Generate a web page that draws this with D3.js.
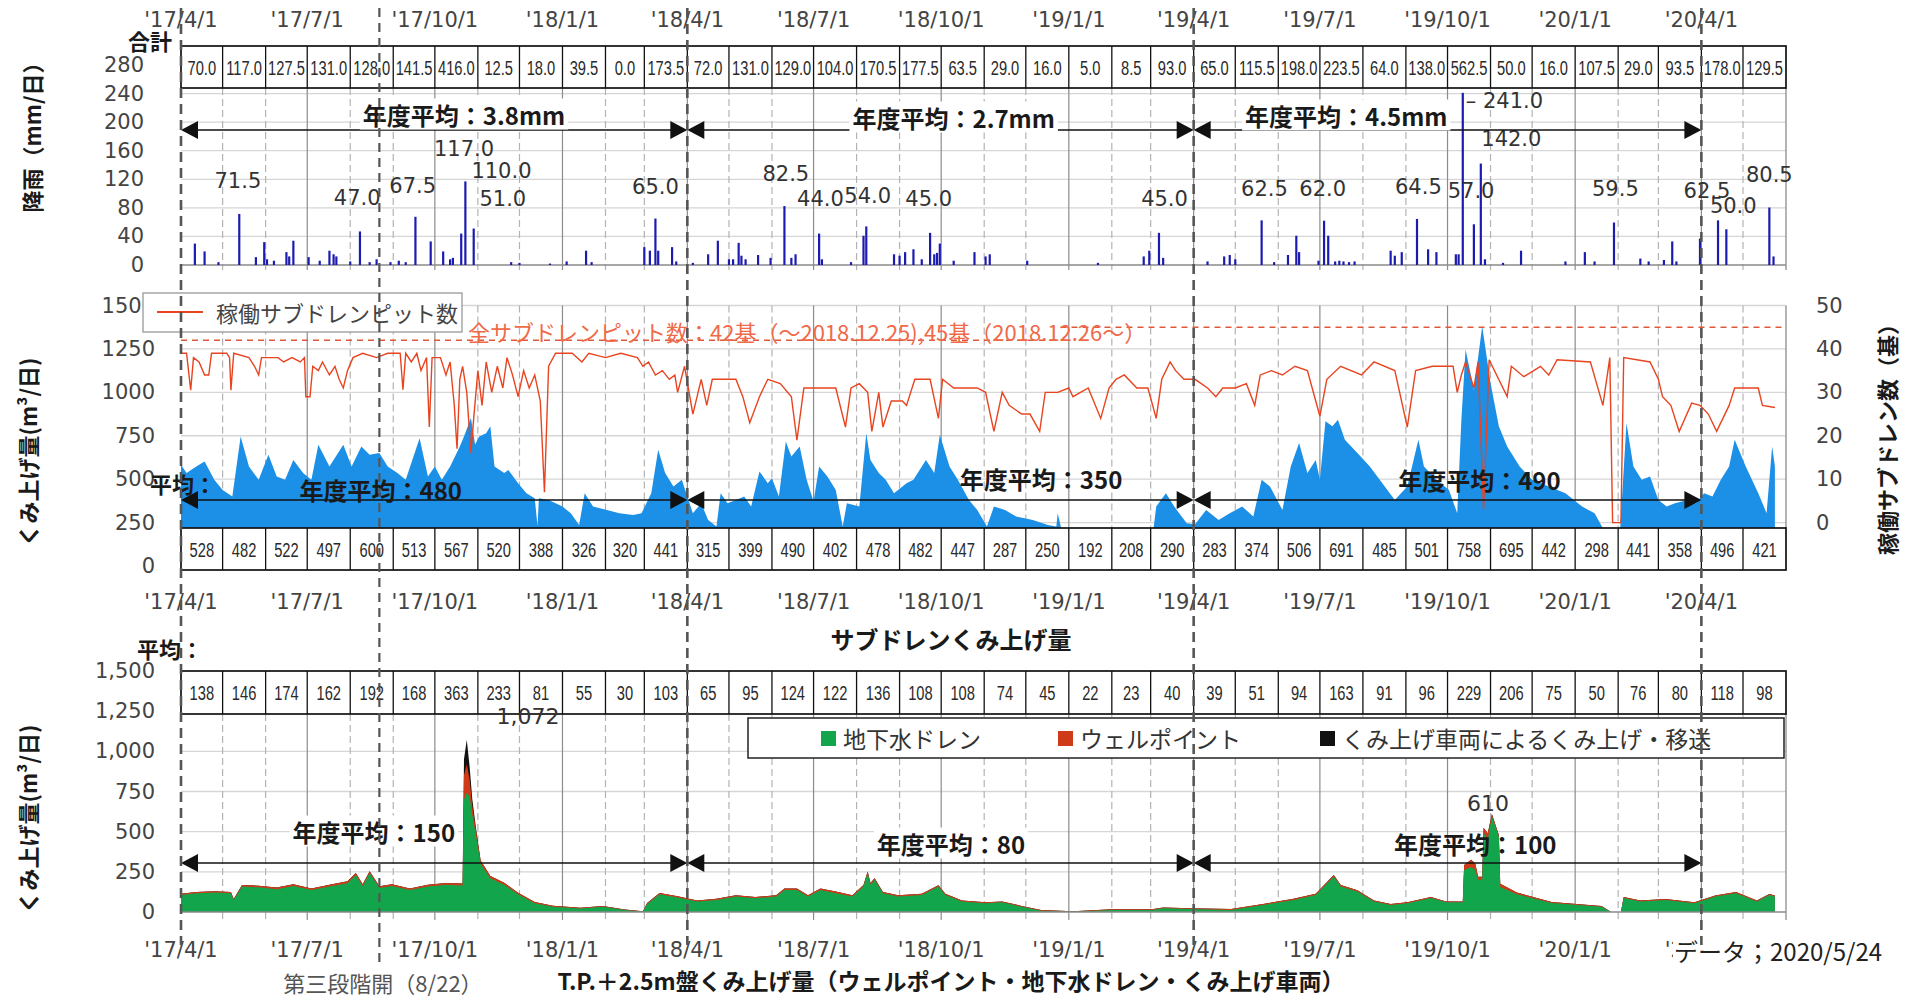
<!DOCTYPE html>
<html lang="ja">
<head>
<meta charset="UTF-8">
<title>サブドレン・T.P.+2.5m盤 くみ上げ量</title>
<script src="https://d3js.org/d3.v7.min.js"></script>
<style>
  body { margin: 0; background: #fff; }
  svg { display: block; font-family: "Noto Sans CJK JP", "Noto Sans", sans-serif; }
  .tick { font-family: "DejaVu Sans", Verdana, sans-serif; font-size: 21px; fill: #444; }
  .note { font-family: "DejaVu Sans", Verdana, sans-serif; font-size: 21px; fill: #333; }
  .bold { font-weight: bold; fill: #1a1a1a; }
</style>
</head>
<body>
<svg id="chart" width="1916" height="1000"></svg>
<script>
// ---- data ----
const rainMonthlyTotal = [70.0, 117.0, 127.5, 131.0, 128.0, 141.5, 416.0, 12.5, 18.0, 39.5, 0.0, 173.5,
  72.0, 131.0, 129.0, 104.0, 170.5, 177.5, 63.5, 29.0, 16.0, 5.0, 8.5, 93.0,
  65.0, 115.5, 198.0, 223.5, 64.0, 138.0, 562.5, 50.0, 16.0, 107.5, 29.0, 93.5,
  178.0, 129.5];
const subdrainMonthlyAvg = [528, 482, 522, 497, 600, 513, 567, 520, 388, 326, 320, 441,
  315, 399, 490, 402, 478, 482, 447, 287, 250, 192, 208, 290,
  283, 374, 506, 691, 485, 501, 758, 695, 442, 298, 441, 358,
  496, 421];
const t25MonthlyAvg = [138, 146, 174, 162, 192, 168, 363, 233, 81, 55, 30, 103,
  65, 95, 124, 122, 136, 108, 108, 74, 45, 22, 23, 40,
  39, 51, 94, 163, 91, 96, 229, 206, 75, 50, 76, 80,
  118, 98];

const fiscalYears = ['2017-04-01', '2018-04-01', '2019-04-01', '2020-04-01'];
const rainAnnualAvg = ['3.8mm', '2.7mm', '4.5mm'];
const subdrainAnnualAvg = [480, 350, 490];
const t25AnnualAvg = [150, 80, 100];

// daily rainfall (mm)
const rainDaily = [
  ['2017-04-11', 30], ['2017-04-18', 19], ['2017-04-28', 4], ['2017-05-13', 71.5], ['2017-05-25', 11], ['2017-05-31', 32],
  ['2017-06-02', 8], ['2017-06-07', 6], ['2017-06-16', 18], ['2017-06-18', 12], ['2017-06-21', 34], ['2017-07-02', 11],
  ['2017-07-10', 6], ['2017-07-17', 20], ['2017-07-20', 15], ['2017-07-22', 12], ['2017-08-01', 5], ['2017-08-08', 47],
  ['2017-08-15', 4], ['2017-08-20', 8], ['2017-08-30', 4], ['2017-09-05', 6], ['2017-09-10', 4], ['2017-09-17', 67.5],
  ['2017-09-28', 33], ['2017-10-07', 19], ['2017-10-12', 8], ['2017-10-14', 10], ['2017-10-20', 44], ['2017-10-23', 117],
  ['2017-10-29', 51], ['2017-11-25', 4], ['2017-12-01', 3], ['2017-12-23', 2], ['2018-01-04', 5], ['2018-01-18', 20],
  ['2018-01-22', 4], ['2018-03-01', 25], ['2018-03-05', 20], ['2018-03-09', 65], ['2018-03-11', 20], ['2018-03-21', 25],
  ['2018-03-24', 5],
  ['2018-04-05', 3], ['2018-04-16', 15], ['2018-04-23', 34], ['2018-05-01', 8], ['2018-05-04', 8], ['2018-05-08', 31],
  ['2018-05-10', 13], ['2018-05-13', 8], ['2018-05-22', 14], ['2018-05-31', 10], ['2018-06-10', 82.5], ['2018-06-15', 10],
  ['2018-06-18', 15], ['2018-07-05', 44], ['2018-07-07', 8], ['2018-07-28', 4], ['2018-08-06', 41], ['2018-08-08', 54],
  ['2018-08-28', 15], ['2018-09-01', 13], ['2018-09-05', 18], ['2018-09-11', 22], ['2018-09-17', 8], ['2018-09-23', 45],
  ['2018-09-26', 15], ['2018-09-28', 17], ['2018-09-30', 30], ['2018-10-10', 6], ['2018-10-25', 18], ['2018-11-02', 12],
  ['2018-11-05', 15], ['2018-12-02', 6], ['2019-01-22', 3], ['2019-02-24', 12], ['2019-02-28', 20], ['2019-03-07', 45],
  ['2019-03-10', 10],
  ['2019-04-11', 5], ['2019-04-23', 12], ['2019-04-27', 14], ['2019-05-01', 8], ['2019-05-20', 62.5], ['2019-05-29', 4],
  ['2019-06-08', 14], ['2019-06-14', 41], ['2019-06-16', 18], ['2019-06-30', 6], ['2019-07-04', 62], ['2019-07-07', 41],
  ['2019-07-12', 5], ['2019-07-15', 6], ['2019-07-18', 5], ['2019-07-22', 4], ['2019-07-26', 5], ['2019-08-21', 20],
  ['2019-08-24', 13], ['2019-08-29', 18], ['2019-09-09', 64.5], ['2019-09-17', 22], ['2019-09-23', 18], ['2019-10-07', 15],
  ['2019-10-09', 15], ['2019-10-12', 241], ['2019-10-20', 57], ['2019-10-25', 142], ['2019-10-28', 8], ['2019-11-10', 3],
  ['2019-11-23', 20], ['2019-12-25', 5], ['2020-01-08', 18], ['2020-01-15', 5], ['2020-01-29', 59.5], ['2020-02-17', 9],
  ['2020-02-23', 5], ['2020-03-05', 7], ['2020-03-11', 33], ['2020-03-14', 5], ['2020-03-31', 37], ['2020-04-13', 62.5],
  ['2020-04-19', 50], ['2020-05-20', 80.5], ['2020-05-23', 12]
];

// labelled rainfall peaks: date of label, text, label height (mm)
const rainPeakNotes = [
  ['2017-05-12', '71.5', 118], ['2017-08-06', '47.0', 94], ['2017-09-15', '67.5', 111], ['2017-10-22', '117.0', 162],
  ['2017-11-18', '110.0', 131], ['2017-11-19', '51.0', 92], ['2018-03-09', '65.0', 109], ['2018-06-11', '82.5', 128],
  ['2018-07-06', '44.0', 92], ['2018-08-09', '54.0', 97], ['2018-09-22', '45.0', 92], ['2019-03-11', '45.0', 92],
  ['2019-05-22', '62.5', 106], ['2019-07-03', '62.0', 106], ['2019-09-10', '64.5', 109], ['2019-10-18', '57.0', 104],
  ['2019-11-11', '– 241.0', 230], ['2019-11-16', '142.0', 177], ['2020-01-30', '59.5', 106], ['2020-04-05', '62.5', 104],
  ['2020-04-24', '50.0', 83], ['2020-05-20', '80.5', 126]
];

// subdrain pumping (m3/day)
const subdrainDaily = [
  ['2017-04-01', 583], ['2017-04-05', 535], ['2017-04-12', 573], ['2017-04-18', 602], ['2017-04-25', 496], ['2017-05-01', 438],
  ['2017-05-08', 400], ['2017-05-14', 746], ['2017-05-20', 573], ['2017-05-27', 496], ['2017-06-03', 640], ['2017-06-09', 515],
  ['2017-06-15', 496], ['2017-06-21', 611], ['2017-06-28', 535], ['2017-07-04', 496], ['2017-07-09', 698], ['2017-07-17', 573],
  ['2017-07-27', 698], ['2017-08-02', 573], ['2017-08-09', 688], ['2017-08-15', 640], ['2017-08-22', 650], ['2017-08-28', 573],
  ['2017-09-04', 535], ['2017-09-10', 496], ['2017-09-20', 736], ['2017-09-26', 515], ['2017-10-01', 573], ['2017-10-06', 496],
  ['2017-10-12', 573], ['2017-10-19', 688], ['2017-10-22', 746], ['2017-10-27', 852], ['2017-10-30', 700], ['2017-11-02', 746],
  ['2017-11-07', 765], ['2017-11-10', 804], ['2017-11-13', 573], ['2017-11-20', 535], ['2017-11-23', 553], ['2017-11-30', 477],
  ['2017-12-06', 419], ['2017-12-12', 390], ['2017-12-14', 230], ['2017-12-15', 390], ['2017-12-22', 380], ['2018-01-01', 342],
  ['2018-01-07', 304], ['2018-01-13', 236], ['2018-01-17', 419], ['2018-01-23', 342], ['2018-02-02', 323], ['2018-02-11', 304],
  ['2018-02-21', 294], ['2018-02-27', 304], ['2018-03-06', 419], ['2018-03-11', 669], ['2018-03-16', 535], ['2018-03-22', 458],
  ['2018-03-28', 496],
  ['2018-04-01', 400], ['2018-04-05', 304], ['2018-04-11', 361], ['2018-04-16', 265], ['2018-04-22', 227], ['2018-04-25', 419],
  ['2018-04-30', 361], ['2018-05-06', 380], ['2018-05-12', 400], ['2018-05-17', 342], ['2018-05-23', 544], ['2018-05-29', 477],
  ['2018-06-01', 505], ['2018-06-06', 400], ['2018-06-11', 717], ['2018-06-15', 631], ['2018-06-21', 688], ['2018-06-26', 496],
  ['2018-07-01', 371], ['2018-07-05', 573], ['2018-07-11', 515], ['2018-07-17', 438], ['2018-07-22', 227], ['2018-07-25', 361],
  ['2018-08-03', 342], ['2018-08-08', 765], ['2018-08-11', 611], ['2018-08-17', 535], ['2018-08-22', 496], ['2018-08-28', 419],
  ['2018-09-06', 477], ['2018-09-11', 496], ['2018-09-20', 611], ['2018-09-26', 535], ['2018-09-30', 756], ['2018-10-07', 573],
  ['2018-10-13', 496], ['2018-10-21', 380], ['2018-10-27', 323], ['2018-11-03', 227], ['2018-11-08', 342], ['2018-11-16', 323],
  ['2018-11-24', 285], ['2018-12-06', 265], ['2018-12-17', 236], ['2018-12-23', 227], ['2018-12-24', 304], ['2018-12-27', 200],
  ['2019-01-20', 190], ['2019-02-15', 200], ['2019-03-03', 210], ['2019-03-05', 342], ['2019-03-12', 419], ['2019-03-18', 342],
  ['2019-03-27', 246],
  ['2019-04-02', 240], ['2019-04-10', 323], ['2019-04-19', 265], ['2019-04-27', 304], ['2019-05-06', 342], ['2019-05-14', 285],
  ['2019-05-20', 496], ['2019-05-26', 458], ['2019-06-04', 323], ['2019-06-10', 573], ['2019-06-16', 708], ['2019-06-22', 535],
  ['2019-06-28', 611], ['2019-07-01', 496], ['2019-07-05', 833], ['2019-07-10', 804], ['2019-07-14', 842], ['2019-07-19', 727],
  ['2019-07-28', 650], ['2019-08-06', 573], ['2019-08-15', 477], ['2019-08-24', 380], ['2019-09-02', 458], ['2019-09-10', 727],
  ['2019-09-14', 573], ['2019-09-23', 496], ['2019-10-02', 438], ['2019-10-08', 304], ['2019-10-11', 842], ['2019-10-14', 1246],
  ['2019-10-20', 1015], ['2019-10-26', 1381], ['2019-11-01', 1054], ['2019-11-07', 804], ['2019-11-13', 688], ['2019-11-22', 573],
  ['2019-12-01', 496], ['2019-12-13', 458], ['2019-12-25', 419], ['2020-01-06', 342], ['2020-01-15', 304], ['2020-01-21', 217],
  ['2020-01-27', 150], ['2020-02-02', 150], ['2020-02-07', 823], ['2020-02-12', 573], ['2020-02-18', 496], ['2020-02-24', 515],
  ['2020-03-01', 380], ['2020-03-07', 342], ['2020-03-13', 361], ['2020-03-22', 380], ['2020-03-28', 361], ['2020-04-03', 419],
  ['2020-04-09', 400], ['2020-04-15', 496], ['2020-04-21', 573], ['2020-04-25', 727], ['2020-05-03', 573], ['2020-05-12', 419],
  ['2020-05-18', 304], ['2020-05-22', 688], ['2020-05-24', 573]
];

// operating subdrain pits (count)
const pitsOperating = [
  ['2017-04-01', 39], ['2017-04-05', 39], ['2017-04-08', 30.5], ['2017-04-10', 38], ['2017-04-14', 37], ['2017-04-18', 34],
  ['2017-04-21', 34], ['2017-04-23', 39], ['2017-05-04', 39], ['2017-05-06', 38], ['2017-05-07', 30.5], ['2017-05-09', 39],
  ['2017-05-20', 38], ['2017-05-24', 36], ['2017-05-27', 34], ['2017-05-29', 38], ['2017-06-10', 38], ['2017-06-14', 37],
  ['2017-06-20', 38], ['2017-06-26', 37], ['2017-06-29', 38], ['2017-06-30', 29], ['2017-07-03', 29], ['2017-07-05', 36],
  ['2017-07-09', 35], ['2017-07-12', 37], ['2017-07-17', 34], ['2017-07-21', 36], ['2017-07-24', 33], ['2017-07-27', 31],
  ['2017-07-30', 35], ['2017-08-03', 38], ['2017-08-10', 39], ['2017-08-20', 38], ['2017-08-28', 39], ['2017-09-06', 39],
  ['2017-09-08', 30.6], ['2017-09-10', 39], ['2017-09-14', 37], ['2017-09-18', 39], ['2017-09-21', 35], ['2017-09-25', 38],
  ['2017-09-27', 22], ['2017-09-29', 38], ['2017-10-05', 38], ['2017-10-09', 34], ['2017-10-12', 37], ['2017-10-15', 27],
  ['2017-10-17', 17], ['2017-10-19', 33], ['2017-10-21', 36], ['2017-10-24', 30], ['2017-10-27', 16], ['2017-10-29', 24],
  ['2017-11-01', 35], ['2017-11-04', 27], ['2017-11-07', 37], ['2017-11-11', 30], ['2017-11-15', 36], ['2017-11-19', 31],
  ['2017-11-22', 38], ['2017-11-26', 34], ['2017-11-30', 29], ['2017-12-04', 35], ['2017-12-08', 31], ['2017-12-12', 34],
  ['2017-12-16', 28], ['2017-12-19', 7], ['2017-12-22', 36], ['2017-12-27', 39], ['2018-01-08', 39], ['2018-01-15', 37],
  ['2018-01-20', 39], ['2018-02-01', 38], ['2018-02-12', 39], ['2018-02-24', 38], ['2018-02-28', 36], ['2018-03-04', 37],
  ['2018-03-09', 34], ['2018-03-14', 35], ['2018-03-19', 33], ['2018-03-23', 34], ['2018-03-25', 30], ['2018-03-30', 36],
  ['2018-04-05', 25], ['2018-04-11', 33], ['2018-04-15', 27], ['2018-04-19', 33], ['2018-04-25', 33], ['2018-05-06', 33],
  ['2018-05-11', 29], ['2018-05-16', 23], ['2018-05-23', 29], ['2018-05-29', 33], ['2018-06-07', 32], ['2018-06-15', 29],
  ['2018-06-19', 19], ['2018-06-24', 31], ['2018-06-30', 31], ['2018-07-08', 31], ['2018-07-17', 31], ['2018-07-24', 22],
  ['2018-07-28', 31], ['2018-08-03', 32], ['2018-08-09', 30], ['2018-08-12', 21], ['2018-08-17', 30], ['2018-08-20', 22],
  ['2018-08-26', 28], ['2018-09-03', 28], ['2018-09-06', 27], ['2018-09-12', 33], ['2018-09-23', 33], ['2018-09-29', 24],
  ['2018-10-02', 33], ['2018-10-10', 31], ['2018-10-27', 31], ['2018-11-02', 30], ['2018-11-08', 21], ['2018-11-14', 30],
  ['2018-11-19', 27], ['2018-11-28', 25], ['2018-12-04', 25], ['2018-12-11', 21], ['2018-12-15', 30], ['2018-12-24', 30],
  ['2019-01-01', 31], ['2019-01-04', 29], ['2019-01-15', 31], ['2019-01-24', 24], ['2019-01-30', 31], ['2019-02-04', 33],
  ['2019-02-10', 34], ['2019-02-19', 31], ['2019-02-27', 31], ['2019-03-05', 24], ['2019-03-09', 33], ['2019-03-15', 37],
  ['2019-03-19', 35], ['2019-03-25', 33],
  ['2019-04-02', 33], ['2019-04-11', 31], ['2019-04-17', 29], ['2019-04-22', 31], ['2019-05-01', 31], ['2019-05-09', 32],
  ['2019-05-15', 27], ['2019-05-19', 34], ['2019-05-27', 35], ['2019-06-04', 34], ['2019-06-13', 36], ['2019-06-22', 35],
  ['2019-07-01', 24.5], ['2019-07-06', 33], ['2019-07-16', 36], ['2019-07-31', 34], ['2019-08-09', 37], ['2019-08-24', 35],
  ['2019-09-02', 22], ['2019-09-08', 35], ['2019-09-20', 36], ['2019-10-05', 36], ['2019-10-08', 30], ['2019-10-11', 34],
  ['2019-10-14', 37], ['2019-10-20', 31], ['2019-10-23', 37], ['2019-10-27', 3], ['2019-10-31', 37.5], ['2019-11-13', 29],
  ['2019-11-16', 36], ['2019-11-25', 33.6], ['2019-12-07', 36], ['2019-12-13', 34], ['2019-12-19', 37.5], ['2020-01-12', 37],
  ['2020-01-21', 27], ['2020-01-26', 38], ['2020-01-28', 0], ['2020-02-03', 0], ['2020-02-05', 38], ['2020-02-24', 37],
  ['2020-03-01', 33], ['2020-03-04', 29], ['2020-03-10', 27], ['2020-03-16', 21], ['2020-03-25', 27.5], ['2020-03-31', 27],
  ['2020-04-06', 25], ['2020-04-12', 21], ['2020-04-21', 27], ['2020-04-25', 31], ['2020-05-12', 31], ['2020-05-15', 27],
  ['2020-05-24', 26.5]
];
// total subdrain pits: 42 (to 2018.12.25), 45 (from 2018.12.26)
const pitsTotal = [['2017-04-01', '2018-12-25', 42], ['2018-12-26', '2020-06-01', 45]];

// T.P.+2.5m pumping: date, groundwater drain, well point, pump trucks (m3/day)
const t25Daily = [
  ['2017-04-01', 106, 8, 0], ['2017-04-12', 117, 8, 0], ['2017-04-25', 121, 8, 0], ['2017-05-07', 117, 8, 0], ['2017-05-09', 75, 6, 0],
  ['2017-05-15', 158, 10, 0], ['2017-05-27', 154, 10, 0], ['2017-06-09', 142, 10, 0], ['2017-06-21', 162, 10, 0], ['2017-07-04', 137, 10, 0],
  ['2017-07-17', 158, 12, 0], ['2017-07-30', 179, 12, 0], ['2017-08-05', 231, 12, 0], ['2017-08-10', 160, 12, 0], ['2017-08-15', 242, 12, 0],
  ['2017-08-22', 150, 10, 0], ['2017-08-31', 162, 10, 0], ['2017-09-13', 137, 10, 0], ['2017-09-26', 158, 12, 0], ['2017-10-09', 169, 12, 0],
  ['2017-10-21', 165, 12, 0], ['2017-10-22', 700, 150, 100], ['2017-10-24', 740, 180, 152], ['2017-10-26', 720, 110, 80],
  ['2017-10-28', 600, 60, 40], ['2017-10-31', 460, 30, 10], ['2017-11-03', 300, 20, 0], ['2017-11-10', 210, 14, 0], ['2017-11-20', 170, 12, 0],
  ['2017-11-30', 110, 10, 0], ['2017-12-12', 55, 8, 0], ['2017-12-25', 33, 6, 0], ['2018-01-14', 22, 5, 0], ['2018-01-30', 32, 5, 0],
  ['2018-02-15', 12, 4, 0], ['2018-02-28', 2, 2, 0], ['2018-03-03', 50, 6, 0], ['2018-03-12', 110, 8, 0], ['2018-03-25', 90, 8, 0],
  ['2018-04-08', 65, 6, 0], ['2018-04-22', 75, 8, 0], ['2018-05-06', 96, 8, 0], ['2018-05-20', 85, 8, 0], ['2018-06-04', 96, 8, 0],
  ['2018-06-10', 137, 10, 0], ['2018-06-19', 137, 10, 0], ['2018-06-27', 96, 8, 0], ['2018-07-06', 137, 10, 0], ['2018-07-17', 117, 10, 0],
  ['2018-07-29', 96, 8, 0], ['2018-08-06', 158, 10, 0], ['2018-08-09', 242, 10, 0], ['2018-08-11', 170, 10, 0], ['2018-08-14', 200, 10, 0],
  ['2018-08-20', 117, 8, 0], ['2018-08-31', 96, 8, 0], ['2018-09-17', 106, 8, 0], ['2018-09-29', 158, 8, 0], ['2018-10-04', 106, 8, 0],
  ['2018-10-16', 65, 6, 0], ['2018-11-02', 54, 6, 0], ['2018-11-14', 60, 6, 0], ['2018-11-28', 33, 5, 0], ['2018-12-12', 8, 4, 0],
  ['2019-01-04', 2, 3, 0], ['2019-02-01', 13, 4, 0], ['2019-03-02', 13, 4, 0], ['2019-03-10', 23, 5, 0], ['2019-03-30', 18, 5, 0],
  ['2019-04-28', 13, 5, 0], ['2019-05-21', 44, 6, 0], ['2019-06-12', 75, 8, 0], ['2019-06-28', 106, 8, 0], ['2019-07-11', 221, 10, 0],
  ['2019-07-16', 158, 10, 0], ['2019-07-28', 127, 8, 0], ['2019-08-09', 65, 6, 0], ['2019-08-21', 44, 6, 0], ['2019-09-02', 54, 6, 0],
  ['2019-09-19', 87, 6, 0], ['2019-09-30', 60, 6, 0], ['2019-10-12', 60, 6, 0], ['2019-10-13', 262, 30, 0], ['2019-10-18', 280, 45, 0],
  ['2019-10-21', 262, 40, 0], ['2019-10-23', 200, 20, 0], ['2019-10-26', 200, 20, 0], ['2019-10-27', 494, 30, 0], ['2019-10-30', 450, 40, 0],
  ['2019-11-02', 594, 16, 0], ['2019-11-05', 520, 10, 0], ['2019-11-07', 469, 10, 0], ['2019-11-08', 156, 20, 0], ['2019-11-20', 110, 12, 0],
  ['2019-12-15', 56, 6, 0], ['2020-01-20', 33, 5, 0], ['2020-01-27', 0, 0, 0], ['2020-02-03', 0, 0, 0], ['2020-02-05', 87, 6, 0],
  ['2020-02-17', 65, 6, 0], ['2020-03-06', 75, 6, 0], ['2020-03-27', 54, 6, 0], ['2020-04-11', 96, 6, 0], ['2020-04-26', 117, 8, 0],
  ['2020-05-11', 65, 6, 0], ['2020-05-20', 106, 6, 0], ['2020-05-24', 96, 6, 0]
];

// ---- layout ----
const svg = d3.select("#chart");
const parse = d3.timeParse("%Y-%m-%d");
const start = parse("2017-04-01"), end = parse("2020-06-01");
const x = d3.scaleTime().domain([start, end]).range([181, 1786]);
const months = d3.timeMonths(start, end);
const quarters = d3.timeMonths(start, end, 3);

const yRain = d3.scaleLinear().domain([0, 280]).range([265, 65]);
const ySub = d3.scaleLinear().domain([0, 1500]).range([566, 305.5]);
const yPit = d3.scaleLinear().domain([0, 50]).range([522.6, 305.5]);
const yT25 = d3.scaleLinear().domain([0, 1500]).range([912, 671]);

const X0 = x(start), X1 = x(end);

function hGrid(scale, vals) {
  svg.append("g").selectAll("line").data(vals).join("line")
    .attr("x1", X0).attr("x2", X1).attr("y1", d => scale(d)).attr("y2", d => scale(d))
    .attr("stroke", d => d === 0 ? "#8a8a8a" : "#d6d6d6").attr("stroke-width", 1.3);
}

function vGrid(y0, y1) {
  svg.append("g").selectAll("line").data(months.slice(1)).join("line")
    .attr("x1", d => x(d)).attr("x2", d => x(d)).attr("y1", y0).attr("y2", y1)
    .attr("stroke", d => d.getMonth() % 3 === 0 ? "#8c8c8c" : "#b3b3b3")
    .attr("stroke-dasharray", d => d.getMonth() % 3 === 0 ? null : "7,4")
    .attr("stroke-width", 1.2);
  svg.append("line").attr("x1", X1).attr("x2", X1).attr("y1", y0).attr("y2", y1)
    .attr("stroke", "#8c8c8c").attr("stroke-width", 1.3);
}

function xLabels(yc) {
  svg.append("g").selectAll("text").data(quarters).join("text")
    .attr("class", "tick").attr("x", d => x(d)).attr("y", yc)
    .attr("text-anchor", "middle").attr("dominant-baseline", "central")
    .text(d => `'${d3.timeFormat("%y")(d)}/${d.getMonth() + 1}/1`);
}

function yLabels(scale, vals, xPos, anchor, fmt) {
  svg.append("g").selectAll("text").data(vals).join("text")
    .attr("class", "tick").attr("x", xPos).attr("y", d => scale(d))
    .attr("text-anchor", anchor).attr("dominant-baseline", "central")
    .text(fmt);
}

function table(y0, y1, values, fmt) {
  const g = svg.append("g");
  g.append("rect").attr("x", X0).attr("y", y0).attr("width", X1 - X0).attr("height", y1 - y0)
    .attr("fill", "#fff").attr("stroke", "#111").attr("stroke-width", 1.7);
  g.selectAll("line").data(months.slice(1)).join("line")
    .attr("x1", d => x(d)).attr("x2", d => x(d)).attr("y1", y0).attr("y2", y1)
    .attr("stroke", "#111").attr("stroke-width", 1.3);
  g.selectAll("text").data(values).join("text")
    .attr("transform", (v, i) => {
      const cx = (x(months[i]) + x(d3.timeMonth.offset(months[i], 1))) / 2;
      return `translate(${cx},${(y0 + y1) / 2 + 1}) scale(0.7,1)`;
    })
    .attr("text-anchor", "middle").attr("dominant-baseline", "central")
    .style("font-family", "'Liberation Sans', Arial, sans-serif").style("font-size", "21px")
    .attr("fill", "#2a2a2a").text(fmt);
}

function fyArrows(y) {
  const g = svg.append("g");
  for (let i = 0; i < 3; i++) {
    const a = x(parse(fiscalYears[i])), b = x(parse(fiscalYears[i + 1]));
    g.append("line").attr("x1", a + 4).attr("x2", b - 4).attr("y1", y).attr("y2", y)
      .attr("stroke", "#111").attr("stroke-width", 1.6);
    g.append("path").attr("d", `M${a},${y} l17,-9 l0,18 z`).attr("fill", "#111");
    g.append("path").attr("d", `M${b},${y} l-17,-9 l0,18 z`).attr("fill", "#111");
  }
}

function boldText(txt, cx, cy, size, anchor = "middle", bg = false) {
  const g = svg.append("g");
  const t = g.append("text").attr("class", "bold").attr("x", cx).attr("y", cy)
    .attr("text-anchor", anchor).attr("dominant-baseline", "central")
    .style("font-size", size + "px").text(txt);
  if (bg) {
    const b = t.node().getBBox();
    g.insert("rect", "text").attr("x", b.x - 3).attr("y", b.y + 2).attr("width", b.width + 6)
      .attr("height", b.height - 4).attr("fill", "#fff");
  }
  return t;
}

// ================= top panel: rainfall =================
hGrid(yRain, [40, 80, 120, 160, 200, 240]);
vGrid(88, 270);
hGrid(yRain, [0]);
yLabels(yRain, d3.range(0, 281, 40), 144, "end", d => d);
xLabels(20);

svg.append("g").selectAll("line").data(rainDaily).join("line")
  .attr("x1", d => x(parse(d[0]))).attr("x2", d => x(parse(d[0])))
  .attr("y1", yRain(0)).attr("y2", d => yRain(d[1]))
  .attr("stroke", "#1b1bb0").attr("stroke-width", 2.2);

svg.append("g").selectAll("text").data(rainPeakNotes).join("text")
  .attr("class", "note").attr("x", d => x(parse(d[0]))).attr("y", d => yRain(d[2]))
  .attr("text-anchor", "middle").attr("dominant-baseline", "central").text(d => d[1]);

table(46, 88, rainMonthlyTotal, d3.format(".1f"));
boldText("合計", 150, 40, 22);

fyArrows(130);
[['2017-10-22', 114], ['2018-10-10', 117], ['2019-07-20', 115]].forEach((p, i) =>
  boldText(`年度平均：${rainAnnualAvg[i]}`, x(parse(p[0])), p[1], 24, "middle", true));

// ================= middle panel: subdrain =================
hGrid(ySub, [250, 500, 750, 1000, 1250, 1500]);
vGrid(305.5, 528);

svg.append("path").datum(subdrainDaily)
  .attr("d", d3.area().x(d => x(parse(d[0]))).y0(ySub(0)).y1(d => ySub(d[1])))
  .attr("fill", "#1c8fe6");

svg.append("g").selectAll("line").data(pitsTotal).join("line")
  .attr("x1", d => x(parse(d[0]))).attr("x2", d => x(parse(d[1])))
  .attr("y1", d => yPit(d[2])).attr("y2", d => yPit(d[2]))
  .attr("stroke", "#e0583a").attr("stroke-width", 1.5).attr("stroke-dasharray", "6,5");

svg.append("path").datum(pitsOperating)
  .attr("d", d3.line().x(d => x(parse(d[0]))).y(d => yPit(d[1])))
  .attr("fill", "none").attr("stroke", "#e8441f").attr("stroke-width", 1.4);

svg.append("text").attr("x", 468).attr("y", 331).attr("dominant-baseline", "central")
  .style("font-size", "22px").attr("fill", "#ef6a48")
  .text("全サブドレンピット数：42基（～2018.12.25),45基（2018.12.26～）");

yLabels(ySub, d3.range(0, 1501, 250), 155, "end", d => d);
yLabels(yPit, d3.range(0, 51, 10), 1816, "start", d => d);

// legend
svg.append("rect").attr("x", 143).attr("y", 293).attr("width", 319).attr("height", 39)
  .attr("fill", "#fff").attr("stroke", "#999").attr("stroke-width", 1.3);
svg.append("line").attr("x1", 157).attr("x2", 203).attr("y1", 312).attr("y2", 312)
  .attr("stroke", "#e8441f").attr("stroke-width", 2);
svg.append("text").attr("x", 216).attr("y", 312).attr("dominant-baseline", "central")
  .style("font-size", "22px").attr("fill", "#444").text("稼働サブドレンピット数");

table(528, 570, subdrainMonthlyAvg, d => d);
xLabels(602);
boldText("サブドレンくみ上げ量", 951, 638, 24).attr("fill", "#333");

fyArrows(500);
boldText("平均：", 150, 483, 22, "start");
[['2017-08-23', 489], ['2018-12-12', 478], ['2019-10-24', 479]].forEach((p, i) =>
  boldText(`年度平均：${subdrainAnnualAvg[i]}`, x(parse(p[0])), p[1], 24));

// ================= bottom panel: T.P.+2.5m =================
hGrid(yT25, [250, 500, 750, 1000, 1250]);
vGrid(714, 920);

const t25Area = f => d3.area().x(d => x(parse(d[0]))).y0(yT25(0)).y1(d => yT25(f(d)));
svg.append("path").datum(t25Daily).attr("d", t25Area(d => d[1] + d[2] + d[3])).attr("fill", "#111");
svg.append("path").datum(t25Daily).attr("d", t25Area(d => d[1] + d[2])).attr("fill", "#cf3a18");
svg.append("path").datum(t25Daily).attr("d", t25Area(d => d[1])).attr("fill", "#13a54c");
hGrid(yT25, [0]);

yLabels(yT25, d3.range(0, 1501, 250), 155, "end", d3.format(","));
table(671, 714, t25MonthlyAvg, d => d);
boldText("平均：", 137, 648, 22, "start");

// legend
const lg = svg.append("g");
lg.append("rect").attr("x", 748).attr("y", 718).attr("width", 1036).attr("height", 40)
  .attr("fill", "#fff").attr("stroke", "#222").attr("stroke-width", 1.5);
[["#13a54c", "地下水ドレン", 821], ["#cf3a18", "ウェルポイント", 1058], ["#111", "くみ上げ車両によるくみ上げ・移送", 1320]]
  .forEach(([c, t, lx]) => {
    lg.append("rect").attr("x", lx).attr("y", 731).attr("width", 15).attr("height", 15).attr("fill", c);
    lg.append("text").attr("x", lx + 22).attr("y", 738).attr("dominant-baseline", "central")
      .style("font-size", "23px").attr("fill", "#333").text(t);
  });

svg.append("text").attr("class", "note").attr("x", 528).attr("y", 716)
  .attr("text-anchor", "middle").attr("dominant-baseline", "central").style("font-size", "22px").text("1,072");
svg.append("text").attr("class", "note").attr("x", 1488).attr("y", 803)
  .attr("text-anchor", "middle").attr("dominant-baseline", "central").style("font-size", "22px").text("610");

fyArrows(863);
[['2017-08-18', 831, true], ['2018-10-08', 843, true], ['2019-10-21', 843, false]].forEach((p, i) =>
  boldText(`年度平均：${t25AnnualAvg[i]}`, x(parse(p[0])), p[1], 24, "middle", p[2]));

xLabels(950);
svg.append("rect").attr("x", 1673).attr("y", 932).attr("width", 243).attr("height", 36).attr("fill", "#fff");
svg.append("text").attr("x", 1674).attr("y", 950).attr("dominant-baseline", "central")
  .style("font-size", "24px").attr("fill", "#222").text("データ；2020/5/24");

boldText("T.P.＋2.5m盤くみ上げ量（ウェルポイント・地下水ドレン・くみ上げ車両）", 951, 980, 23).attr("fill", "#333");
svg.append("text").attr("x", 383).attr("y", 982).attr("text-anchor", "middle").attr("dominant-baseline", "central")
  .style("font-size", "22px").attr("fill", "#555").text("第三段階開（8/22）");

// ---- axis titles ----
[["降雨（mm/日）", 31, 132], ["くみ上げ量(m³/日)", 27, 452], ["くみ上げ量(m³/日)", 27, 819]].forEach(([t, tx, ty]) =>
  boldText(t, 0, 0, 22).attr("x", null).attr("y", null)
    .attr("transform", `translate(${tx},${ty}) rotate(-90)`).attr("fill", "#333"));
boldText("稼働サブドレン数（基）", 0, 0, 22).attr("x", null).attr("y", null)
  .attr("transform", "translate(1886,434) rotate(-90)").attr("fill", "#333");

// ---- fiscal-year boundaries and stage-3 opening ----
svg.append("g").selectAll("line").data(fiscalYears).join("line")
  .attr("x1", d => x(parse(d))).attr("x2", d => x(parse(d))).attr("y1", 8).attr("y2", 945)
  .attr("stroke", "#555").attr("stroke-width", 2.6).attr("stroke-dasharray", "10,6");
svg.append("line").attr("x1", x(parse("2017-08-22"))).attr("x2", x(parse("2017-08-22")))
  .attr("y1", 8).attr("y2", 966)
  .attr("stroke", "#555").attr("stroke-width", 2.2).attr("stroke-dasharray", "9,6");
</script>
</body>
</html>
